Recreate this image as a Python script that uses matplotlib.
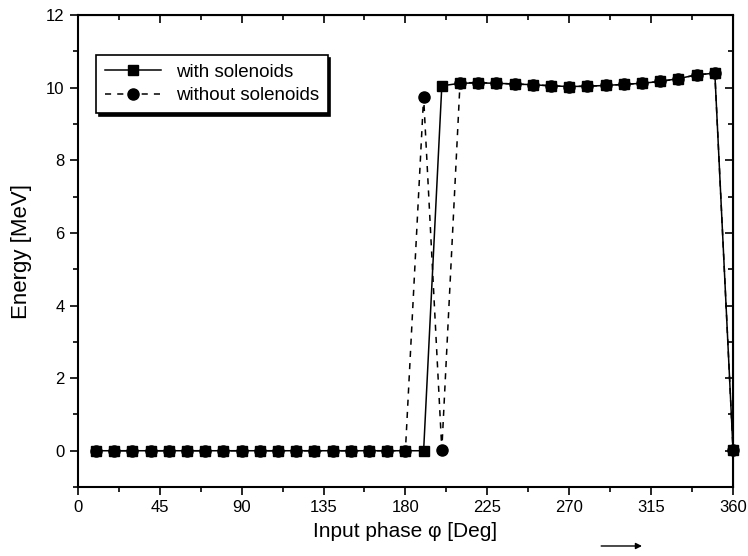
import matplotlib
matplotlib.use("Agg")
import matplotlib.pyplot as plt
from matplotlib.ticker import MultipleLocator

plt.rcParams['font.family'] = ['Liberation Sans', 'DejaVu Sans']

# input phase (deg)
phase = [10, 20, 30, 40, 50, 60, 70, 80, 90, 100, 110, 120, 130, 140, 150, 160, 170, 180,
         190, 200, 210, 220, 230, 240, 250, 260, 270, 280, 290, 300, 310, 320, 330, 340, 350, 360]

# energy with solenoids (MeV)
e_with = [0, 0, 0, 0, 0, 0, 0, 0, 0, 0, 0, 0, 0, 0, 0, 0, 0, 0,
          0, 10.05, 10.12, 10.13, 10.12, 10.1, 10.08, 10.05, 10.03, 10.04, 10.06, 10.09,
          10.12, 10.17, 10.25, 10.35, 10.4, 0.02]

# energy without solenoids (MeV)
e_without = [0, 0, 0, 0, 0, 0, 0, 0, 0, 0, 0, 0, 0, 0, 0, 0, 0, 0,
             9.75, 0.03, 10.13, 10.14, 10.12, 10.1, 10.08, 10.05, 10.03, 10.04, 10.06, 10.09,
             10.12, 10.17, 10.25, 10.35, 10.4, 0.02]

fig = plt.figure(figsize=(7.48, 5.56), dpi=100)
ax = fig.add_axes([0.104, 0.124, 0.876, 0.849])

ax.plot(phase, e_with, '-', color='black', lw=1.1, marker='s', ms=6.5,
        label='with solenoids', clip_on=False, zorder=3)
ax.plot(phase, e_without, '--', color='black', lw=1.1, marker='o', ms=8,
        dashes=(4, 4), label='without solenoids', clip_on=False, zorder=4)

ax.set_xlim(0, 360)
ax.set_ylim(-1, 12)
ax.xaxis.set_major_locator(MultipleLocator(45))
ax.xaxis.set_minor_locator(MultipleLocator(22.5))
ax.yaxis.set_major_locator(MultipleLocator(2))
ax.yaxis.set_minor_locator(MultipleLocator(1))
ax.tick_params(which='both', direction='out', labelsize=12, width=1.2)
ax.tick_params(which='major', length=6)
ax.tick_params(which='minor', length=3.5)
for s in ax.spines.values():
    s.set_linewidth(1.5)

# inward ticks on top and right
axt = ax.secondary_xaxis('top')
axt.xaxis.set_major_locator(MultipleLocator(45))
axt.xaxis.set_minor_locator(MultipleLocator(22.5))
axt.tick_params(which='both', direction='in', labeltop=False, width=1.2)
axt.tick_params(which='major', length=6)
axt.tick_params(which='minor', length=3.5)
axr = ax.secondary_yaxis('right')
axr.yaxis.set_major_locator(MultipleLocator(2))
axr.yaxis.set_minor_locator(MultipleLocator(1))
axr.tick_params(which='both', direction='in', labelright=False, width=1.2)
axr.tick_params(which='major', length=6)
axr.tick_params(which='minor', length=3.5)

ax.set_xlabel('Input phase φ [Deg]', fontsize=15, labelpad=5)
ax.set_ylabel('Energy [MeV]', fontsize=16, labelpad=10)

leg = ax.legend(loc='upper left', bbox_to_anchor=(0.014, 0.935), fontsize=13.5,
                shadow={'color': 'black', 'alpha': 1}, fancybox=False,
                edgecolor='black', framealpha=1,
                handlelength=3.0, borderpad=0.45, labelspacing=0.35)
leg.get_frame().set_linewidth(1.2)

ax.annotate('', xy=(0.862, 0.018), xytext=(0.80, 0.018), xycoords='figure fraction',
            arrowprops=dict(arrowstyle='-|>', color='black', lw=1, mutation_scale=9))

fig.savefig('out.png', dpi=100)
